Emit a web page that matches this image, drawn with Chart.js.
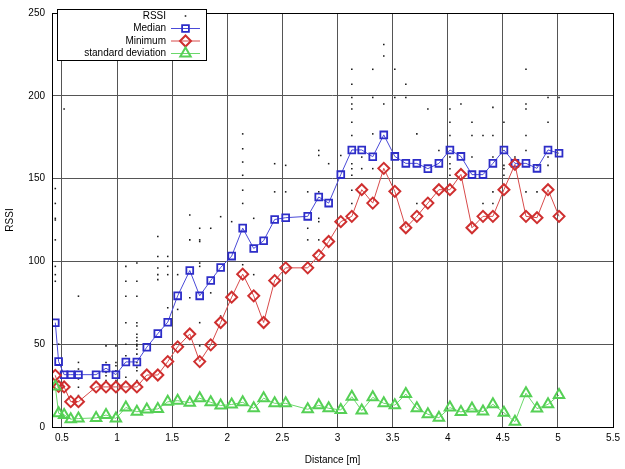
<!DOCTYPE html>
<html>
<head>
<meta charset="utf-8">
<script src="https://cdn.jsdelivr.net/npm/chart.js@4"></script>
<style>
    html, body { margin: 0; padding: 0; background: #fff; }
    #wrap { width: 625px; height: 469px; }
</style>
</head>
<body>
<div id="wrap"><canvas id="rssiChart" width="625" height="469"></canvas></div>
<script>
// measured distances [m]
const distances = [
    0.44, 0.47, 0.52, 0.58, 0.65, 0.81, 0.90, 0.99, 1.08, 1.18,
    1.27, 1.37, 1.46, 1.55, 1.66, 1.75, 1.85, 1.94, 2.04, 2.14,
    2.24, 2.33, 2.43, 2.53, 2.73, 2.83, 2.92, 3.03, 3.13, 3.22,
    3.32, 3.42, 3.52, 3.62, 3.72, 3.82, 3.92, 4.02, 4.12, 4.22,
    4.32, 4.41, 4.51, 4.61, 4.71, 4.81, 4.91, 5.01
];

const medianRssi = [
    63, 39.5, 31.6, 31.6, 31.6, 31.6, 35.5, 31.6, 39.3, 39.3,
    48.2, 56.4, 63.3, 79.2, 94.5, 79.2, 88.5, 96.3, 103.2, 120.1,
    107.8, 112.5, 125.3, 126.4, 127.2, 138.9, 135.2, 152.4, 167.3, 167.3,
    163.2, 176.4, 163.4, 159.2, 159.2, 156, 159.2, 167.3, 163.4, 152.4,
    152.4, 159.2, 167.3, 159.2, 159.2, 156.2, 167.3, 165.3
];

const minimumRssi = [
    31.2, 24.5, 24.2, 15.3, 15.3, 24.2, 24.2, 24.2, 24.2, 24.2,
    31.4, 31.4, 39.5, 48.4, 56.2, 39.5, 49.6, 63.1, 78.4, 92.3,
    79.2, 63.1, 88.4, 96.1, 96.1, 103.6, 112, 124, 127.2, 143.3,
    135.2, 156.2, 142.3, 120.3, 127.2, 135.2, 143.3, 143.3, 152.5, 120.3,
    127.2, 127.2, 143.3, 158.6, 127.2, 126.4, 143.3, 127.2
];

const stdDeviation = [
    24.5, 8.3, 7.3, 4.7, 5.1, 5.5, 7.2, 5.2, 11.8, 9.2,
    10.5, 10.9, 15.2, 15.9, 14.7, 17.4, 14.9, 13, 13.6, 14.9,
    11.3, 17.4, 14.3, 14.3, 10.7, 13.1, 11.3, 10.3, 18.3, 9.9,
    17.9, 14.3, 13.2, 19.9, 11.3, 7.7, 5.6, 11.7, 9.1, 11.1,
    9.3, 13.7, 8.6, 3.2, 20.4, 11.1, 13.7, 19.3
];

// raw samples, one list per distance
const rssiSamples = [
    [144, 135, 126, 125, 113, 97, 92, 88],
    [50],
    [192],
    [],
    [79, 39, 35, 29, 24, 19],
    [],
    [49, 39, 33, 31, 28],
    [49, 39, 37, 34, 28],
    [97, 88, 79, 63, 50, 43, 30],
    [99, 88, 79, 63, 61, 56, 54, 52, 50, 49, 47, 44, 39, 36, 34, 28],
    [],
    [115, 103, 96, 92, 89],
    [103, 97, 92, 72],
    [92, 71],
    [128, 113, 78],
    [120, 113, 112, 99, 97, 63, 49],
    [120, 81],
    [127, 67],
    [124],
    [177, 168, 160, 152, 143, 135, 98],
    [126, 92],
    [],
    [159, 142],
    [158, 142],
    [142, 120, 113],
    [167, 164, 142, 126, 124, 113],
    [159],
    [164],
    [216, 207, 199, 195, 192, 184, 176, 159, 156, 152, 143, 135],
    [163, 156],
    [216, 199, 177, 156],
    [231, 224, 195],
    [216, 199],
    [207, 199],
    [177, 135],
    [192],
    [167],
    [192, 184, 176, 163, 159, 156, 152],
    [195],
    [184, 176, 163],
    [176, 135],
    [193, 176, 163, 142, 135],
    [184, 158, 156, 152],
    [163],
    [216, 195, 192, 176, 167, 142],
    [158, 142],
    [199, 184, 163, 158],
    [199]
];

const xTicks = [0.5, 1, 1.5, 2, 2.5, 3, 3.5, 4, 4.5, 5, 5.5];

const FONT = '"Liberation Sans", Arial, sans-serif';

function toPoints(values) {
    return distances.map(function(d, i) {
        return { x: d, y: values[i] };
    });
}

const samplePoints = [];
rssiSamples.forEach(function(list, i) {
    list.forEach(function(v) {
        samplePoints.push({ x: distances[i], y: v });
    });
});

// frame around the plot area (gnuplot style box)
const frameBox = {
    id: 'frameBox',
    afterDatasetsDraw: function(chart) {
        const a = chart.chartArea;
        const ctx = chart.ctx;
        ctx.save();
        ctx.strokeStyle = '#000';
        ctx.lineWidth = 1;
        ctx.strokeRect(Math.round(a.left) + 0.5, Math.round(a.top) + 0.5,
            Math.round(a.right - a.left), Math.round(a.bottom - a.top));
        ctx.restore();
    }
};

// key box in the upper left: label, then sample line with marker
const keyBox = {
    id: 'keyBox',
    afterDraw: function(chart) {
        const ctx = chart.ctx;
        const left = 57, top = 9, width = 149, height = 51;
        const textRight = 166, lineStart = 171, lineEnd = 200;
        const rowH = 12.5;

        ctx.save();
        ctx.fillStyle = '#fff';
        ctx.fillRect(left, top, width, height);
        ctx.strokeStyle = '#000';
        ctx.lineWidth = 1;
        ctx.strokeRect(left + 0.5, top + 0.5, width, height);
        ctx.restore();

        chart.data.datasets.forEach(function(ds, i) {
            const y = top + 7 + i * rowH;
            const mid = (lineStart + lineEnd) / 2;

            ctx.save();
            ctx.font = '10px ' + FONT;
            ctx.textAlign = 'right';
            ctx.textBaseline = 'middle';
            ctx.fillStyle = '#000';
            ctx.fillText(ds.label, textRight, y);

            if (ds.showLine) {
                ctx.strokeStyle = ds.borderColor;
                ctx.lineWidth = 1;
                ctx.beginPath();
                ctx.moveTo(lineStart, y);
                ctx.lineTo(lineEnd, y);
                ctx.stroke();
            }
            ctx.strokeStyle = ds.pointBorderColor;
            ctx.fillStyle = ds.pointBackgroundColor;
            ctx.lineWidth = ds.pointBorderWidth;
            Chart.helpers.drawPoint(ctx, {
                pointStyle: ds.pointStyle,
                radius: ds.pointRadius,
                borderWidth: ds.pointBorderWidth
            }, mid, y);
            ctx.restore();
        });
    }
};

const ctx = document.getElementById('rssiChart');

new Chart(ctx, {
    type: 'scatter',
    data: {
        datasets: [{
            label: 'RSSI',
            data: samplePoints,
            showLine: false,
            pointStyle: 'rect',
            pointRadius: 1.1,
            pointBorderWidth: 0,
            pointBackgroundColor: '#1a1a1a',
            pointBorderColor: '#1a1a1a',
            order: 4
        }, {
            label: 'Median',
            data: toPoints(medianRssi),
            showLine: true,
            borderColor: '#4a4ad8',
            borderWidth: 1,
            pointStyle: 'rect',
            pointRadius: 4.8,
            pointBorderWidth: 1.8,
            pointBackgroundColor: 'rgba(255,255,255,0)',
            pointBorderColor: '#2d2dc8',
            order: 3
        }, {
            label: 'Minimum',
            data: toPoints(minimumRssi),
            showLine: true,
            borderColor: '#d84a4a',
            borderWidth: 1,
            pointStyle: 'rectRot',
            pointRadius: 5.5,
            pointBorderWidth: 2,
            pointBackgroundColor: 'rgba(255,255,255,0)',
            pointBorderColor: '#cf2f2f',
            order: 2
        }, {
            label: 'standard deviation',
            data: toPoints(stdDeviation),
            showLine: true,
            borderColor: '#6ad86a',
            borderWidth: 1,
            pointStyle: 'triangle',
            pointRadius: 6,
            pointBorderWidth: 2,
            pointBackgroundColor: 'rgba(255,255,255,0)',
            pointBorderColor: '#55d055',
            order: 1
        }]
    },
    options: {
        responsive: false,
        animation: false,
        layout: {
            padding: { top: 13, right: 8, left: 0, bottom: 0 }
        },
        plugins: {
            legend: { display: false },
            tooltip: { enabled: false }
        },
        scales: {
            x: {
                type: 'linear',
                min: 0.41,
                max: 5.5,
                afterBuildTicks: function(scale) {
                    scale.ticks = xTicks.map(function(v) { return { value: v }; });
                },
                afterFit: function(scale) {
                    scale.height = 42;
                },
                grid: {
                    color: '#555',
                    lineWidth: 1,
                    drawTicks: false
                },
                border: { display: false },
                ticks: {
                    color: '#000',
                    padding: 5,
                    maxRotation: 0,
                    font: { family: FONT, size: 10 },
                    callback: function(value) {
                        return String(value);
                    }
                },
                title: {
                    display: true,
                    text: 'Distance [m]',
                    color: '#000',
                    padding: { top: 4, bottom: 3 },
                    font: { family: FONT, size: 10 }
                }
            },
            y: {
                min: 0,
                max: 250,
                ticks: {
                    stepSize: 50,
                    color: '#000',
                    padding: 7,
                    font: { family: FONT, size: 10 }
                },
                afterFit: function(scale) {
                    scale.width = 52;
                },
                grid: {
                    color: '#555',
                    lineWidth: 1,
                    drawTicks: false
                },
                border: { display: false },
                title: {
                    display: true,
                    text: 'RSSI',
                    color: '#000',
                    padding: { top: 4, bottom: 4 },
                    font: { family: FONT, size: 10 }
                }
            }
        }
    },
    plugins: [frameBox, keyBox]
});
</script>
</body>
</html>
